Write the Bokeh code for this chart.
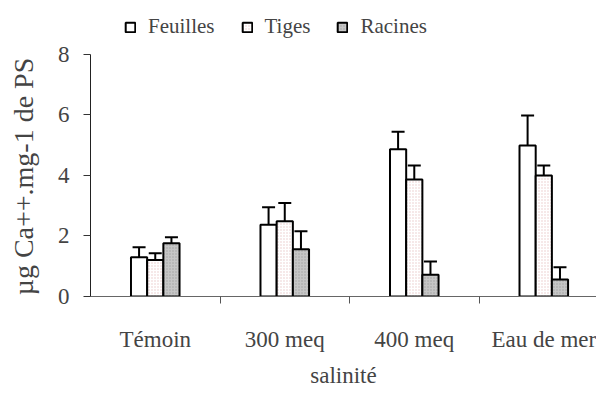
from bokeh.plotting import figure
from bokeh.models import (ColumnDataSource, FixedTicker, Range1d, Whisker, TeeHead,
                          Legend, LegendItem)
from bokeh.embed import file_html
from bokeh.resources import INLINE

# Calcium content by organ for each salinity treatment
salinite = ["Témoin", "300 meq", "400 meq", "Eau de mer"]
organes = ["Feuilles", "Tiges", "Racines"]
feuilles = [1.30, 2.37, 4.87, 4.99]
tiges = [1.21, 2.49, 3.87, 4.00]
racines = [1.76, 1.56, 0.72, 0.56]
err_feuilles = [0.33, 0.58, 0.58, 0.99]
err_tiges = [0.22, 0.60, 0.46, 0.33]
err_racines = [0.20, 0.60, 0.44, 0.41]
y_ticks = [0, 2, 4, 6, 8]

FONT = "'Liberation Serif', 'Times New Roman', serif"
BAR_W = 0.125

# the frame reaches the top of the page; the value axis only spans 0-8,
# leaving headroom above it for the legend
p = figure(width=596, height=399, output_backend="svg", toolbar_location=None,
           x_range=Range1d(0, 3.907), y_range=Range1d(0, 9.785),
           min_border_left=90, min_border_right=0, min_border_top=0, min_border_bottom=103)
p.outline_line_color = None
p.grid.visible = False
p.background_fill_color = "white"
p.border_fill_color = "white"

series = [
    (organes[0], feuilles, err_feuilles, dict(fill_color="white")),
    (organes[1], tiges, err_tiges, dict(fill_color="white", hatch_pattern="dot",
                                        hatch_color="#e8c8c8", hatch_scale=3, hatch_weight=1)),
    (organes[2], racines, err_racines, dict(fill_color="#c6c6c6", hatch_pattern="dot",
                                            hatch_color="#a0a0a0", hatch_scale=3, hatch_weight=1)),
]

items = []
for k, (name, vals, errs, style) in enumerate(series):
    xs = [i + 0.5 + (k - 1) * BAR_W for i in range(len(salinite))]
    src = ColumnDataSource(dict(x=xs, top=vals, upper=[v + e for v, e in zip(vals, errs)]))
    r = p.vbar(x="x", top="top", bottom=0, width=BAR_W, source=src,
               line_color="black", line_width=2, **style)
    items.append(LegendItem(label=name, renderers=[r]))
    p.add_layout(Whisker(source=src, base="x", lower="top", upper="upper",
                         line_color="black", line_width=2,
                         upper_head=TeeHead(size=13, line_color="black", line_width=2),
                         lower_head=None))

legend = Legend(items=items, orientation="horizontal", location=(34, 257),
                glyph_width=12, glyph_height=12, label_standoff=12, spacing=26,
                label_text_font=FONT, label_text_font_size="21px",
                border_line_color=None, background_fill_alpha=0,
                padding=0, margin=0)
p.add_layout(legend, "center")

# x axis: category names centred, tick marks between groups
xa = p.xaxis[0]
xa.ticker = FixedTicker(ticks=[i + 0.5 for i in range(len(salinite))],
                        minor_ticks=[1, 2, 3])
xa.major_label_overrides = {i + 0.5: s for i, s in enumerate(salinite)}
xa.major_tick_line_color = None
xa.major_tick_out = 0
xa.major_tick_in = 0
xa.minor_tick_out = 7
xa.minor_tick_in = 0
xa.minor_tick_line_color = "#555555"
xa.axis_line_color = "#666666"
xa.major_label_text_font = FONT
xa.major_label_text_font_size = "23px"
xa.major_label_standoff = 23
xa.axis_label = "salinité"
xa.axis_label_text_font = FONT
xa.axis_label_text_font_style = "normal"
xa.axis_label_text_font_size = "23px"
xa.axis_label_standoff = 8

ya = p.yaxis[0]
ya.ticker = FixedTicker(ticks=y_ticks)
ya.bounds = (0, 8)
ya.minor_tick_line_color = None
ya.major_tick_out = 7
ya.major_tick_in = 0
ya.axis_line_color = "#222222"
ya.major_tick_line_color = "#333333"
ya.major_label_text_font = FONT
ya.major_label_text_font_size = "23px"
ya.major_label_standoff = 14
# trailing no-break spaces keep the title centred lower, on the 0-8 span
ya.axis_label = "µg Ca++.mg-1 de PS" + "\u00a0" * 8
ya.axis_label_text_font = FONT
ya.axis_label_text_font_style = "normal"
ya.axis_label_text_font_size = "28px"
ya.axis_label_standoff = 16

open("out.html", "w").write(file_html(p, INLINE))
